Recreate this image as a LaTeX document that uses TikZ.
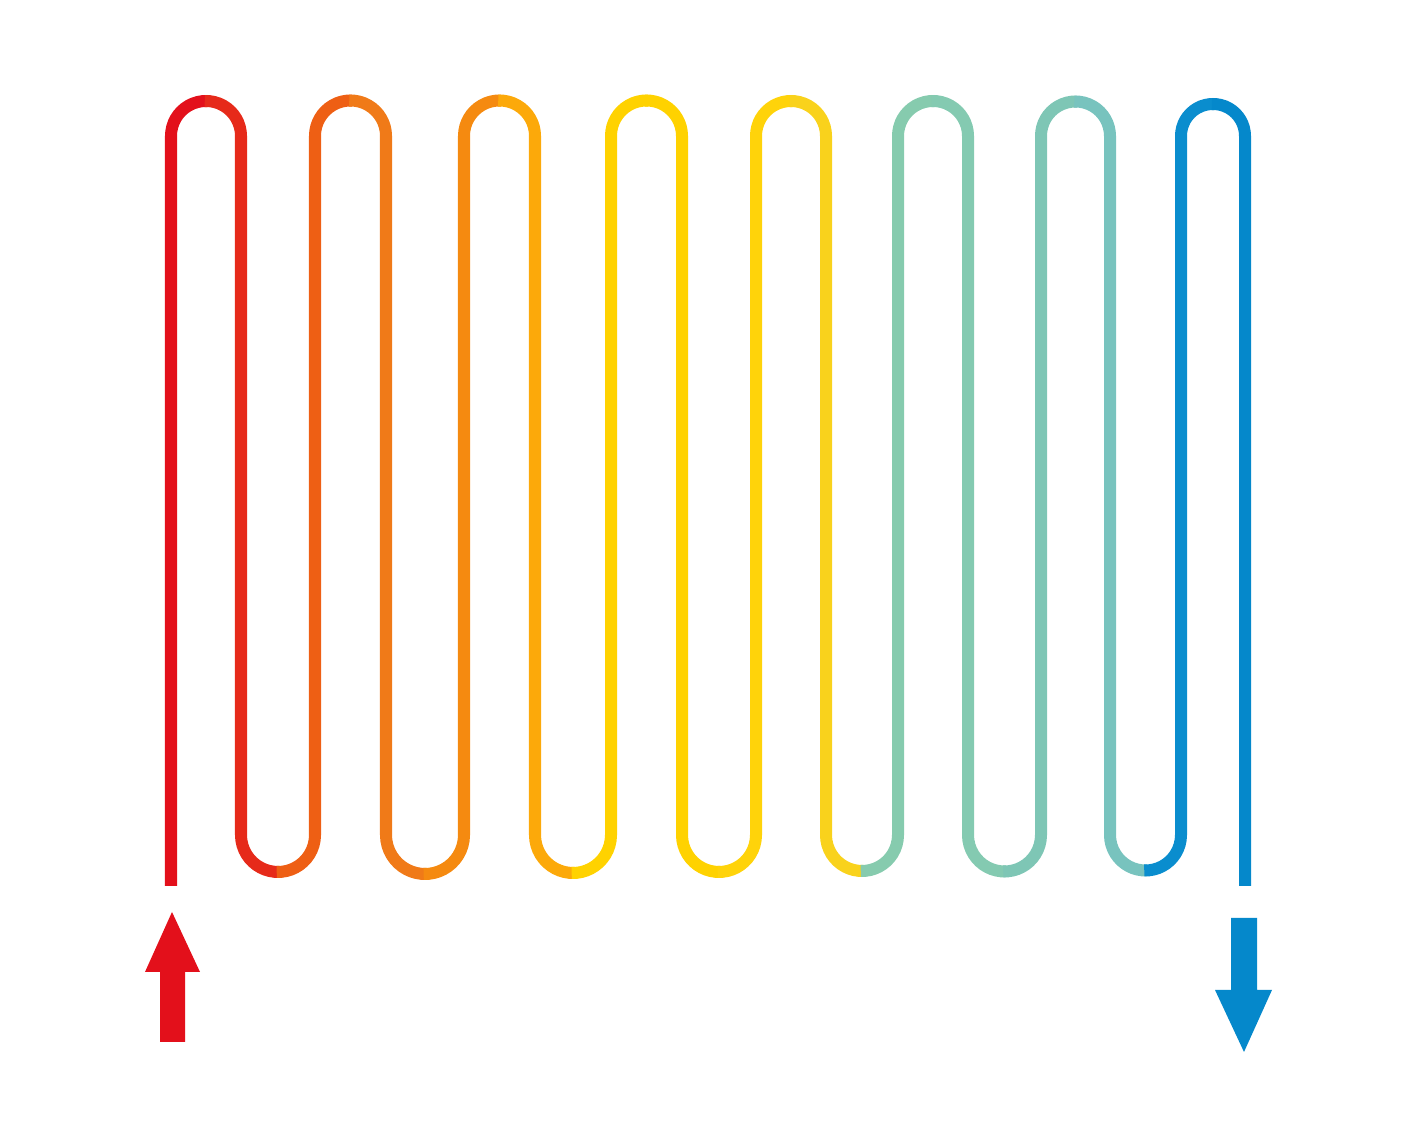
\documentclass[tikz,border=0pt]{standalone}
\usepackage{tikz}
\usetikzlibrary{positioning}
% colours of the sixteen runs, hot to cold
\definecolor{c0}{HTML}{E3101B}
\definecolor{c1}{HTML}{E62A1A}
\definecolor{c2}{HTML}{EE5F14}
\definecolor{c3}{HTML}{F07A18}
\definecolor{c4}{HTML}{F58A10}
\definecolor{c5}{HTML}{FCA90A}
\definecolor{c6}{HTML}{FFD200}
\definecolor{c7}{HTML}{FFD200}
\definecolor{c8}{HTML}{FFD30A}
\definecolor{c9}{HTML}{F9D21C}
\definecolor{c10}{HTML}{86CBAE}
\definecolor{c11}{HTML}{84CAB1}
\definecolor{c12}{HTML}{7EC6B5}
\definecolor{c13}{HTML}{78C3BE}
\definecolor{c14}{HTML}{0A8DCE}
\definecolor{c15}{HTML}{0588CB}
\tikzset{pipe/.style={line width=0.12cm,line cap=butt}}
\tikzset{inflow/.style={fill=c0,draw=none},outflow/.style={fill=c15,draw=none}}

\begin{document}
\begin{tikzpicture}[x=0.01cm,y=0.01cm]
    \useasboundingbox (0,0) rectangle (1402,1122);
    \def\xs{{171,241,315,386,464,535,611,682,756,826,898,968,1041,1110,1181,1245}}
    % one vertical run with half of each bend
    \foreach \i in {0,...,15} {
        \pgfmathtruncatemacro{\il}{max(\i-1,0)}
        \pgfmathtruncatemacro{\ir}{min(\i+1,15)}
        \pgfmathsetmacro{\xx}{\xs[\i]}
        \pgfmathsetmacro{\xl}{\xs[\il]}
        \pgfmathsetmacro{\xr}{\xs[\ir]}
        \pgfmathsetmacro{\rl}{(\xx-\xl)/2}
        \pgfmathsetmacro{\rr}{(\xr-\xx)/2}
        \pgfmathtruncatemacro{\odd}{mod(\i,2)}
        \ifnum\i=0
            \draw[pipe,c\i] (\xx,236) -- (\xx,986)
                arc[start angle=180,end angle=88,radius=\rr];
        \else\ifnum\i=15
            \draw[pipe,c\i] (\xx,236) -- (\xx,986)
                arc[start angle=0,end angle=92,radius=\rl];
        \else\ifnum\odd=1
            \draw[pipe,c\i] (\xx+\rr,287) ++(272:\rr)
                arc[start angle=272,end angle=180,radius=\rr]
                -- (\xx,986) arc[start angle=0,end angle=92,radius=\rl];
        \else
            \draw[pipe,c\i] (\xx-\rl,287) ++(268:\rl)
                arc[start angle=268,end angle=360,radius=\rl]
                -- (\xx,986) arc[start angle=180,end angle=88,radius=\rr];
        \fi\fi\fi
    }
    % flow in and out
    \coordinate (intip) at (172,210);
    \coordinate (outtip) at (1244,70);
    \fill[inflow] (intip) -- (200,150) -- (185,150) -- (185,80)
        -- (160,80) -- (160,150) -- (145,150) -- cycle;
    \fill[outflow] (outtip) -- (1272,132) -- (1257,132) -- (1257,204)
        -- (1231,204) -- (1231,132) -- (1215,132) -- cycle;
\end{tikzpicture}
\end{document}
